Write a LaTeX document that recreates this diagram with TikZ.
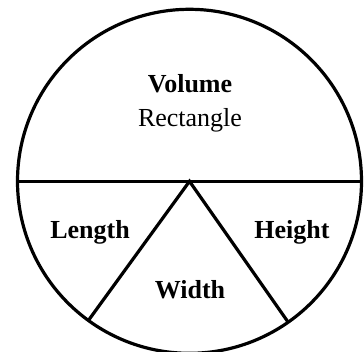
\documentclass[tikz,border=0pt]{standalone}
\usepackage{fontspec}
\setmainfont{Liberation Serif}
\begin{document}
\begin{tikzpicture}[x=1pt,y=-1pt,
  ring/.style={draw, circle, minimum size=344pt, inner sep=0pt, outer sep=0pt, line width=3.2pt},
  divider/.style={line width=3.2pt},
  lbl/.style={font=\fontsize{26}{30}\selectfont, inner sep=0pt},
  blbl/.style={lbl, font=\fontsize{26}{30}\selectfont\bfseries}]
\useasboundingbox (0,0) rectangle (364,351);
\node[ring] (c) at (189.5,181.3) {};
\draw[divider] (c.west) -- (c.east);
\draw[divider, line join=miter] (c.234.5) -- (c.center) -- (c.305.5);
\node[blbl] (vol) at (190,84) {Volume};
\node[lbl] (rect) at (190,120) {Rectangle};
\node[blbl] (len) at (90,232) {Length};
\node[blbl] (hei) at (292,232) {Height};
\node[blbl] (wid) at (190,290) {Width};
\end{tikzpicture}
\end{document}
